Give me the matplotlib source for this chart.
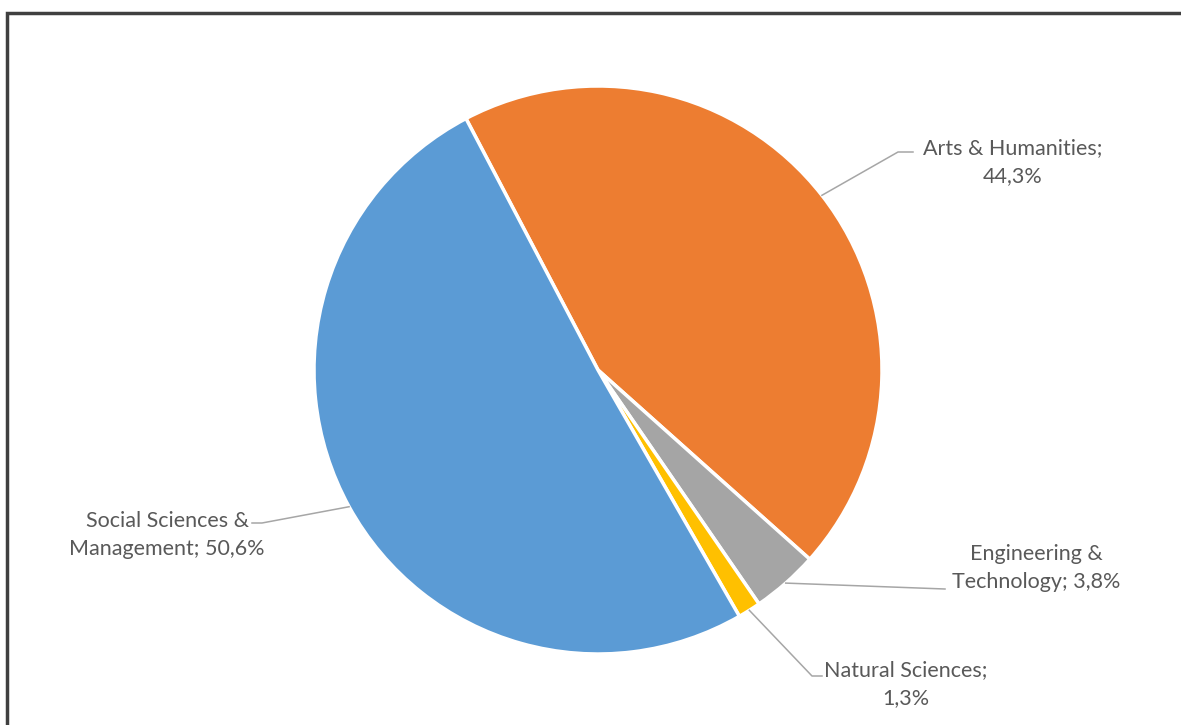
import matplotlib.pyplot as plt
import numpy as np

# Data
categories = ["Arts & Humanities", "Engineering & Technology", "Natural Sciences",
              "Social Sciences & Management"]
shares = [44.3, 3.8, 1.3, 50.6]
colors = ["#ED7D31", "#A5A5A5", "#FFC000", "#5B9BD5"]

plt.rcParams['font.family'] = ['Lato', 'DejaVu Sans']

W, H = 1181, 725
fig = plt.figure(figsize=(W / 100, H / 100), dpi=100)
ax = fig.add_axes([0, 0, 1, 1])

cx, cy, r = 598, H - 370, 284
wedges, _ = ax.pie(shares, colors=colors, startangle=117.7, counterclock=False,
                   center=(cx, cy), radius=r, frame=True,
                   wedgeprops=dict(edgecolor="white", linewidth=2.5))
ax.set_xlim(0, W)
ax.set_ylim(0, H)
ax.set_aspect("equal")
ax.axis("off")

# frame border (cropped at right/bottom in the reference)
ax.plot([7, 7, W + 5], [-5, H - 13, H - 13], color="#404040", lw=2.5,
        solid_joinstyle="miter", clip_on=False)

def fmt(v):
    return ("%.1f%%" % v).replace(".", ",")

# label text lines, elbow points and text positions (pixel coords, y down)
label_lines = [
    ["Arts & Humanities;", fmt(shares[0])],
    ["Engineering &", "Technology; " + fmt(shares[1])],
    ["Natural Sciences;", fmt(shares[2])],
    ["Social Sciences &", "Management; " + fmt(shares[3])],
]
elbows = [[(898, 152), (913, 152)],
          [(945, 589)],
          [(812, 676), (822, 676)],
          [(262, 523), (252, 523)]]
text_pos = [(1013, 162), (1036, 568), (906, 684), (167, 535)]

for w, lines, elb, tp in zip(wedges, label_lines, elbows, text_pos):
    mid = np.deg2rad((w.theta1 + w.theta2) / 2)
    x0 = cx + r * np.cos(mid)
    y0 = cy + r * np.sin(mid)
    xs = [x0] + [p[0] for p in elb]
    ys = [y0] + [H - p[1] for p in elb]
    ax.plot(xs, ys, color="#A6A6A6", lw=1.1)
    ax.text(tp[0], H - tp[1], "\n".join(lines), ha="center", va="center",
            fontsize=15.5, color="#595959", linespacing=1.5)

fig.savefig("out.png", dpi=100)
